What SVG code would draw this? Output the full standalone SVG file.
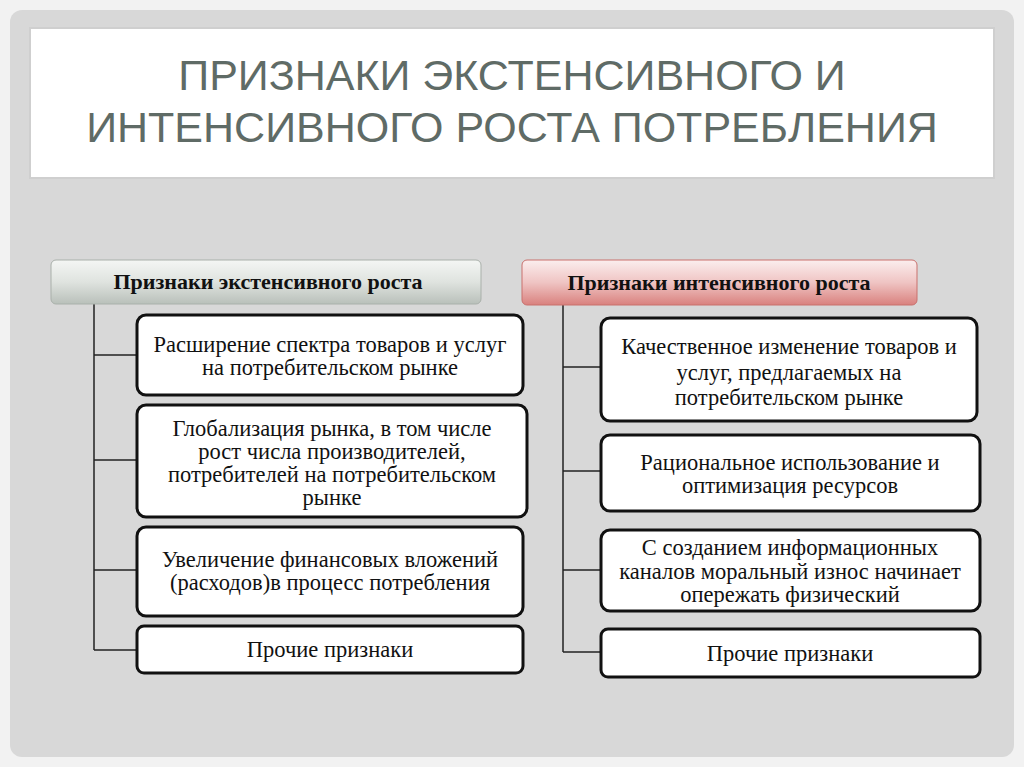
<svg xmlns="http://www.w3.org/2000/svg" width="1024" height="767" viewBox="0 0 1024 767">
<defs>
<linearGradient id="gg" x1="0" y1="0" x2="0" y2="1"><stop offset="0" stop-color="#f4f6f4"/><stop offset="0.5" stop-color="#dfe3df"/><stop offset="1" stop-color="#b9c0ba"/></linearGradient>
<linearGradient id="rg" x1="0" y1="0" x2="0" y2="1"><stop offset="0" stop-color="#fbeeee"/><stop offset="0.5" stop-color="#efc4c3"/><stop offset="1" stop-color="#d9817e"/></linearGradient>
<style>
.box{fill:#fff;stroke:#111;stroke-width:3}
.t{font-family:"Liberation Serif",serif;font-size:22.5px;fill:#111;text-anchor:middle}
.h{font-family:"Liberation Serif",serif;font-size:22px;font-weight:bold;fill:#111;text-anchor:middle}
.c{stroke:#222;stroke-width:1.5;fill:none}
</style>
</defs>
<rect width="1024" height="767" fill="#f2f2f2"/>
<rect x="10" y="10" width="1004" height="747" rx="12" fill="#d8d8d8"/>
<g id="title">
<rect x="30" y="28" width="964" height="150" fill="#fff" stroke="#cfcfcf" stroke-width="2"/>
<text x="512" y="90" font-family="Liberation Sans,sans-serif" font-size="43" fill="#5f6b66" text-anchor="middle">ПРИЗНАКИ ЭКСТЕНСИВНОГО И</text>
<text x="512" y="142" font-family="Liberation Sans,sans-serif" font-size="43" fill="#5f6b66" text-anchor="middle">ИНТЕНСИВНОГО РОСТА ПОТРЕБЛЕНИЯ</text>
</g>
<g id="connectors">
<path class="c" d="M94 304V650M94 355H137M94 460H137M94 570H137M94 650H137"/>
<path class="c" d="M563 305V652M563 367H601M563 471H601M563 570H601M563 652H601"/>
</g>
<g id="h1"><rect x="51" y="260" width="430" height="44" rx="5" fill="url(#gg)" stroke="#a9b0aa"/><text class="h" x="268" y="289">Признаки экстенсивного роста</text></g>
<g id="h2"><rect x="522" y="260" width="395" height="45" rx="5" fill="url(#rg)" stroke="#c9706d"/><text class="h" x="719" y="290">Признаки интенсивного роста</text></g>
<g id="l1"><rect class="box" x="137" y="315" width="386" height="80" rx="9"/><text class="t" x="330" y="352">Расширение спектра товаров и услуг</text><text class="t" x="330" y="375">на потребительском рынке</text></g>
<g id="l2"><rect class="box" x="137" y="405" width="390" height="112" rx="9"/><text class="t" x="332" y="436">Глобализация рынка, в том числе</text><text class="t" x="332" y="459">рост числа производителей,</text><text class="t" x="332" y="482">потребителей на потребительском</text><text class="t" x="332" y="505">рынке</text></g>
<g id="l3"><rect class="box" x="137" y="527" width="386" height="89" rx="9"/><text class="t" x="330" y="567">Увеличение финансовых вложений</text><text class="t" x="330" y="590">(расходов)в процесс потребления</text></g>
<g id="l4"><rect class="box" x="137" y="626" width="386" height="47" rx="7"/><text class="t" x="330" y="657">Прочие признаки</text></g>
<g id="r1"><rect class="box" x="601" y="318" width="376" height="103" rx="9"/><text class="t" x="789" y="354">Качественное изменение товаров и</text><text class="t" x="789" y="380">услуг, предлагаемых на</text><text class="t" x="789" y="405">потребительском рынке</text></g>
<g id="r2"><rect class="box" x="601" y="435" width="379" height="76" rx="9"/><text class="t" x="790" y="470">Рациональное использование и</text><text class="t" x="790" y="493">оптимизация ресурсов</text></g>
<g id="r3"><rect class="box" x="601" y="530" width="379" height="81" rx="9"/><text class="t" x="790" y="555">С созданием информационных</text><text class="t" x="790" y="579">каналов моральный износ начинает</text><text class="t" x="790" y="602">опережать физический</text></g>
<g id="r4"><rect class="box" x="601" y="629" width="379" height="48" rx="7"/><text class="t" x="790" y="661">Прочие признаки</text></g>
</svg>
